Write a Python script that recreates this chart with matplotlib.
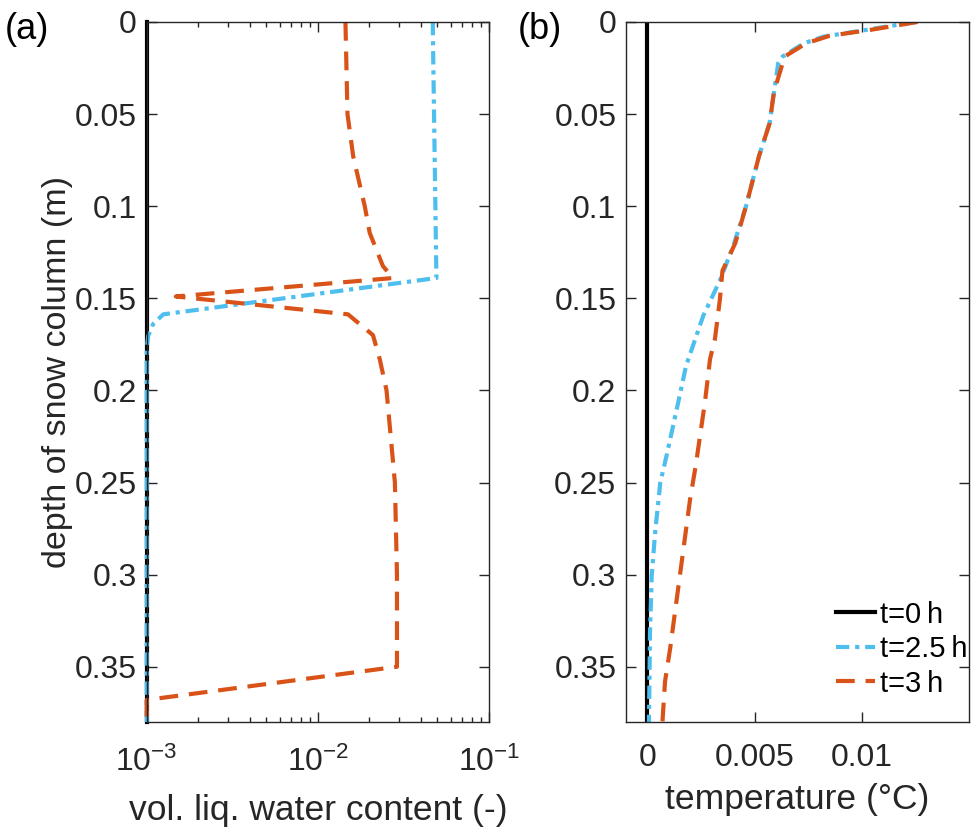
import numpy as np
import matplotlib
matplotlib.use("Agg")
import matplotlib.pyplot as plt
from matplotlib.ticker import FixedLocator, LogLocator, NullFormatter

plt.rcParams['font.family'] = ['Liberation Sans', 'DejaVu Sans']
plt.rcParams['mathtext.fontset'] = 'custom'
plt.rcParams['mathtext.rm'] = 'Liberation Sans'
plt.rcParams['mathtext.it'] = 'Liberation Sans'

# --- data ---
# (a) volumetric liquid water content
depth_wc_0 = [0.0, 0.38]
wc_0 = [0.001, 0.001]

depth_wc_25 = [0.0, 0.005, 0.139, 0.1587, 0.164, 0.1705, 0.1777, 0.38]
wc_25 = [0.047, 0.047, 0.0493, 0.00125, 0.00109, 0.00102, 0.001, 0.001]

depth_wc_3 = [0.0, 0.05, 0.073, 0.1, 0.1145, 0.1325, 0.139, 0.149, 0.1587,
              0.17, 0.183, 0.2, 0.25, 0.3, 0.35, 0.368, 0.38]
wc_3 = [0.0145, 0.0149, 0.0161, 0.0188, 0.0201, 0.024, 0.0275, 0.00148, 0.015,
        0.021, 0.023, 0.0252, 0.0282, 0.029, 0.029, 0.001, 0.001]

# (b) temperature
depth_T_0 = [0.0, 0.38]
T_0 = [0.0, 0.0]

depth_T_25 = [0.0, 0.0043, 0.008, 0.0116, 0.0188, 0.0224, 0.0386, 0.0549, 0.073,
              0.1, 0.1217, 0.1398, 0.1596, 0.1867, 0.2138, 0.235, 0.25, 0.277,
              0.3005, 0.331, 0.38]
T_25 = [0.0125, 0.0102, 0.0082, 0.0073, 0.0063, 0.0061, 0.0059, 0.0057, 0.0052,
        0.0046, 0.0040, 0.0034, 0.0026, 0.0018, 0.0013, 0.0009, 0.0006, 0.00036,
        0.0002, 0.00012, 0.00007]

depth_T_3 = [0.0, 0.0043, 0.0075, 0.0116, 0.0188, 0.038, 0.055, 0.073, 0.1, 0.12,
             0.135, 0.1506, 0.172, 0.183, 0.2066, 0.241, 0.259, 0.286, 0.313,
             0.34, 0.358, 0.38]
T_3 = [0.0126, 0.0104, 0.0085, 0.0074, 0.0064, 0.0059, 0.0057, 0.0052, 0.0046,
       0.0041, 0.0035, 0.00338, 0.00315, 0.00292, 0.00268, 0.00225, 0.00199,
       0.00168, 0.00137, 0.00106, 0.00082, 0.0007]

labels = ['t=0\u2009h', 't=2.5\u2009h', 't=3\u2009h']
depth_ticks = [0, 0.05, 0.1, 0.15, 0.2, 0.25, 0.3, 0.35]
depth_ticklabels = ['0', '0.05', '0.1', '0.15', '0.2', '0.25', '0.3', '0.35']
T_ticks = [0, 0.005, 0.01]
T_ticklabels = ['0', '0.005', '0.01']

# --- style ---
c_black = 'black'
c_blue = '#4DBEEE'
c_orange = '#D95319'
grey = '#262626'
fs_tick = 23
fs_label = 25.5

fig = plt.figure(figsize=(9.76, 8.32), dpi=100)
ax1 = fig.add_axes([0.1503, 0.1322, 0.3507, 0.8414])
ax2 = fig.add_axes([0.6414, 0.1322, 0.3514, 0.8414])


def style_axes(ax):
    for s in ax.spines.values():
        s.set_color(grey)
        s.set_linewidth(1.0)
    ax.tick_params(which='both', direction='in', top=True, right=True,
                   colors=grey, labelcolor=grey, labelsize=fs_tick, width=1.0)
    ax.tick_params(which='major', length=7)
    ax.tick_params(which='minor', length=3.5)
    ax.tick_params(axis='y', pad=7)
    ax.tick_params(axis='x', pad=15)
    ax.set_ylim(0.38, 0)
    ax.yaxis.set_major_locator(FixedLocator(depth_ticks))
    ax.set_yticklabels(depth_ticklabels)


# (a)
ax1.plot(wc_0, depth_wc_0, color=c_black, lw=3.0, label=labels[0], clip_on=False)
ax1.plot(wc_25, depth_wc_25, color=c_blue, lw=3.0, dashes=(3.2, 1.4, 1.0, 1.4),
         label=labels[1], clip_on=False)
ax1.plot(wc_3, depth_wc_3, color=c_orange, lw=3.0, dashes=(4.5, 2.6),
         label=labels[2], clip_on=False)
ax1.set_xscale('log')
ax1.set_xlim(1e-3, 1e-1)
style_axes(ax1)
ax1.xaxis.set_major_locator(FixedLocator([1e-3, 1e-2, 1e-1]))
ax1.set_xticklabels([r'$10^{-3}$', r'$10^{-2}$', r'$10^{-1}$'])
ax1.xaxis.set_minor_locator(LogLocator(base=10, subs=np.arange(2, 10)))
ax1.xaxis.set_minor_formatter(NullFormatter())
ax1.tick_params(axis='x', which='major', pad=18)
ax1.set_xlabel('vol. liq. water content (-)', fontsize=fs_label, color=grey,
               va='center')
ax1.xaxis.set_label_coords(0.5, -0.126)
ax1.set_ylabel('depth of snow column (m)', fontsize=fs_label - 1, color=grey,
               va='center')
ax1.yaxis.set_label_coords(-0.262, 0.5)

# (b)
ax2.plot(T_0, depth_T_0, color=c_black, lw=3.0, label=labels[0])
ax2.plot(T_25, depth_T_25, color=c_blue, lw=3.0, dashes=(3.2, 1.4, 1.0, 1.4),
         label=labels[1])
ax2.plot(T_3, depth_T_3, color=c_orange, lw=3.0, dashes=(4.5, 2.6),
         label=labels[2])
ax2.set_xlim(-0.001, 0.015)
style_axes(ax2)
ax2.xaxis.set_major_locator(FixedLocator(T_ticks))
ax2.set_xticklabels(T_ticklabels)
ax2.set_xlabel('temperature (°C)', fontsize=fs_label, color=grey, va='center')
ax2.xaxis.set_label_coords(0.5, -0.110)
ax2.legend(loc='lower right', bbox_to_anchor=(0.995, 0.035), frameon=False,
           fontsize=21, handlelength=1.35, handletextpad=0.15,
           labelspacing=0.22, borderaxespad=0, borderpad=0)

fig.text(0.005, 0.986, '(a)', fontsize=26, color='black', va='top')
fig.text(0.530, 0.986, '(b)', fontsize=26, color='black', va='top')

fig.savefig('out.png', dpi=100)
